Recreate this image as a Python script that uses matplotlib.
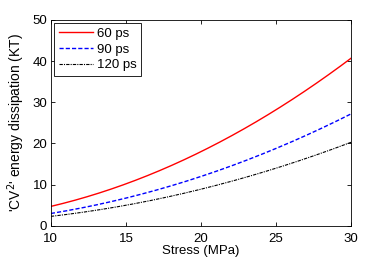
import matplotlib
matplotlib.use("Agg")
import matplotlib.pyplot as plt
import numpy as np

stress = [10, 12.5, 15, 17.5, 20, 22.5, 25, 27.5, 30]
e60 = [4.7, 7.2, 10.2, 13.8, 18.0, 22.8, 28.2, 34.2, 40.7]
e90 = [3.0, 4.7, 6.7, 9.2, 12.0, 15.2, 18.8, 22.8, 27.2]
e120 = [2.3, 3.5, 5.0, 6.8, 8.9, 11.3, 14.0, 17.0, 20.3]
labels = ["60 ps", "90 ps", "120 ps"]

plt.rcParams['font.family'] = ['Liberation Sans', 'DejaVu Sans']
plt.rcParams['font.size'] = 10

fig = plt.figure(figsize=(3.88, 2.59), dpi=100)
ax = fig.add_axes([0.131, 0.128, 0.774, 0.795])

xs = np.linspace(10, 30, 200)
def smooth(y):
    c = np.polyfit(stress, y, 3)
    return np.polyval(c, xs)

ax.plot(xs, smooth(e60), color='red', lw=1.0, ls='-', label=labels[0])
ax.plot(xs, smooth(e90), color='blue', lw=1.0, ls='--', dashes=(3, 1.5), label=labels[1])
ax.plot(xs, smooth(e120), color='black', lw=0.8, ls='-.', dashes=(3, 1, 1, 1), label=labels[2])

ax.set_xlim(10, 30)
ax.set_ylim(0, 50)
ax.set_xticks([10, 15, 20, 25, 30])
ax.set_yticks([0, 10, 20, 30, 40, 50])
ax.tick_params(direction='in', top=True, right=True, length=3, width=0.6, labelsize=9.5)
ax.tick_params(axis='x', pad=4.8)
ax.tick_params(axis='y', pad=2.5)
for s in ax.spines.values():
    s.set_linewidth(0.6)
ax.set_xlabel('Stress (MPa)', fontsize=9.5, labelpad=0)
ax.set_ylabel("'CV$^2$' energy dissipation (KT)", labelpad=4)

leg = ax.legend(loc='upper left', fancybox=False, edgecolor='black', framealpha=1,
                fontsize=9.5, handlelength=2.6, borderaxespad=0.25, labelspacing=0.25,
                handletextpad=0.3, borderpad=0.35)
leg.get_frame().set_linewidth(0.6)

fig.savefig('out.png', dpi=100)
